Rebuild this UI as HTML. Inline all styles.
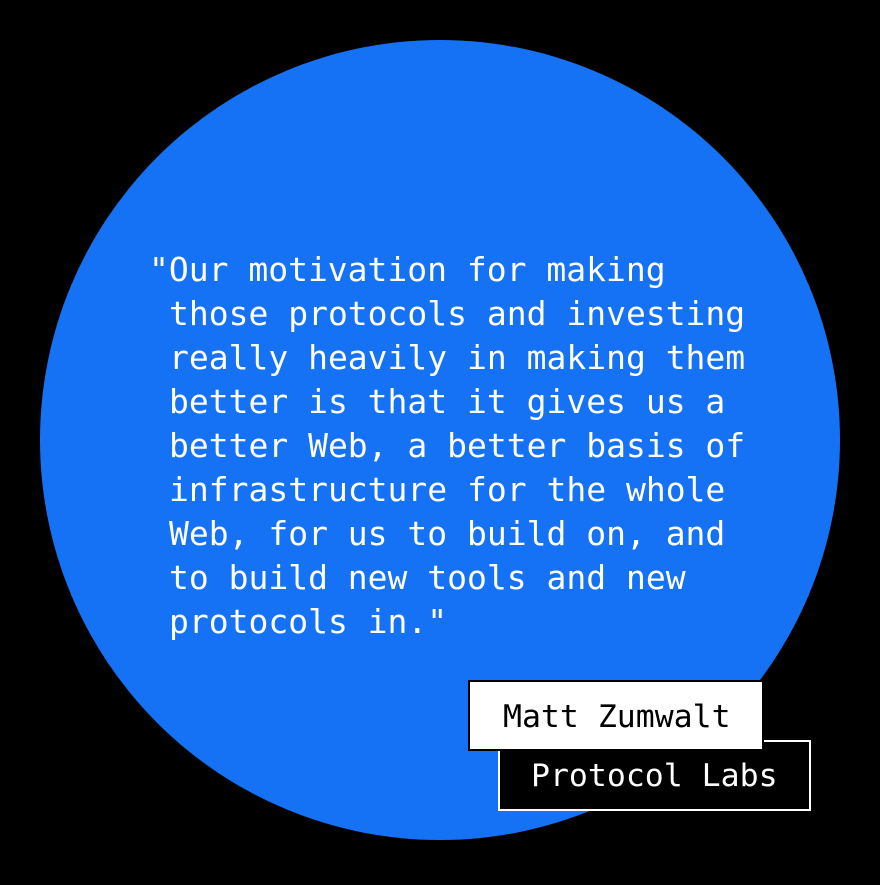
<!DOCTYPE html>
<html><head><meta charset="utf-8"><style>html,body{margin:0;padding:0;background:#000}</style></head>
<body>
<svg width="880" height="880" viewBox="0 0 880 880" xmlns="http://www.w3.org/2000/svg">
<rect width="880" height="880" fill="#000"/>
<circle cx="440" cy="440" r="400" fill="#1672F5"/>
<g font-family="DejaVu Sans Mono, Liberation Mono, monospace" font-size="33" fill="#fff">
<text x="149" y="281">"Our motivation for making</text>
<text x="169" y="325">those protocols and investing</text>
<text x="169" y="369">really heavily in making them</text>
<text x="169" y="413">better is that it gives us a</text>
<text x="169" y="457">better Web, a better basis of</text>
<text x="169" y="501">infrastructure for the whole</text>
<text x="169" y="545">Web, for us to build on, and</text>
<text x="169" y="589">to build new tools and new</text>
<text x="169" y="633">protocols in."</text>
</g>
<rect x="499" y="741" width="311" height="69" fill="#000" stroke="#fff" stroke-width="2"/>
<rect x="469" y="681" width="294" height="69" fill="#fff" stroke="#000" stroke-width="2"/>
<text x="503" y="727" font-family="DejaVu Sans Mono, Liberation Mono, monospace" font-size="31.5" fill="#000">Matt Zumwalt</text>
<text x="531" y="786" font-family="DejaVu Sans Mono, Liberation Mono, monospace" font-size="31.5" fill="#fff">Protocol Labs</text>
</svg>
</body></html>
